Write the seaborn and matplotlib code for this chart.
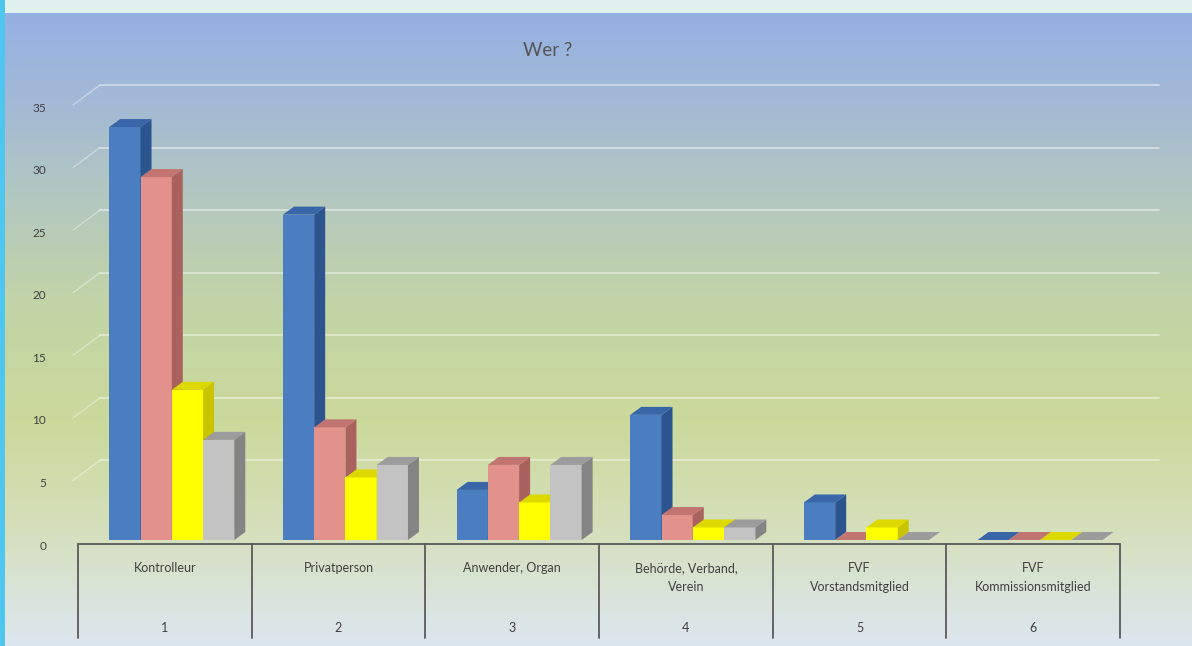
import numpy as np
import pandas as pd
import matplotlib
matplotlib.use("Agg")
import matplotlib.pyplot as plt
import matplotlib.transforms as mtransforms
from matplotlib.patches import Polygon
from matplotlib.colors import to_rgb
import seaborn as sns

# ---------------- data ----------------
categories = ["Kontrolleur", "Privatperson", "Anwender, Organ",
              "Behörde, Verband,\nVerein", "FVF\nVorstandsmitglied", "FVF\nKommissionsmitglied"]
numbers = ["1", "2", "3", "4", "5", "6"]
series = ["Reihe 1", "Reihe 2", "Reihe 3", "Reihe 4"]
s1 = [33, 26, 4, 10, 3, 0]
s2 = [29, 9, 6, 2, 0, 0]
s3 = [12, 5, 3, 1, 1, 0]
s4 = [8, 6, 6, 1, 0, 0]
title = "Wer ?"

front_cols = ["#4a7ec0", "#e3918b", "#ffff00", "#c3c3c3"]
side_cols = ["#2c5590", "#a9625d", "#c8c400", "#848484"]
top_cols = ["#3866a8", "#c27470", "#dcd800", "#9c9c9c"]

df = pd.DataFrame({
    "cat": np.repeat(categories, 4),
    "series": series * 6,
    "value": [v for quad in zip(s1, s2, s3, s4) for v in quad],
})

W, H = 1192, 646
sns.set_theme(style="white")
plt.rcParams["font.family"] = ["Lato", "DejaVu Sans"]
fig = plt.figure(figsize=(W / 100, H / 100), dpi=100)

# ---------------- background ----------------
bg = fig.add_axes([0, 0, 1, 1], zorder=-10)
stops_y = [0, 12, 13, 100, 200, 300, 420, 520, 600, 646]
stops_c = ["#dff0ef", "#dff0ef", "#95b1e3", "#a3b9d6", "#b3c8bf", "#c2d4a7",
           "#cbd99b", "#d4dfb8", "#dae4dc", "#dce6ef"]
ys = np.arange(H)
rgb = np.array([to_rgb(c) for c in stops_c])
col = np.stack([np.interp(ys, stops_y, rgb[:, k]) for k in range(3)], axis=1)
img = np.repeat(col[:, None, :], W, axis=1)
img[:, :5, :] = to_rgb("#4fc6ef")
bg.imshow(img, aspect="auto", extent=[0, W, H, 0])
bg.set_xlim(0, W)
bg.set_ylim(H, 0)
bg.axis("off")
bg.text(548, 50, title, ha="center", va="center", fontsize=13.5, color="#555555")

# ---------------- main axes ----------------
left, right, y0, y35 = 78, 1120, 540, 102
ax = fig.add_axes([left / W, (H - y0) / H, (right - left) / W, (y0 - y35) / H])
ax.set_facecolor("none")
sns.barplot(data=df, x="cat", y="value", hue="series", order=categories,
            hue_order=series, palette=front_cols, width=0.72, legend=False,
            errorbar=None, ax=ax, saturation=1)
ax.set_xlim(-0.5, 5.5)
ax.set_ylim(0, 35)
for s in ax.spines.values():
    s.set_visible(False)
ax.set_xlabel("")
ax.set_ylabel("")
ax.set_xticks([])
ax.set_yticks([0, 5, 10, 15, 20, 25, 30, 35])
ax.tick_params(axis="y", length=0, pad=23, labelsize=8.5, labelcolor="#404040")
off = mtransforms.ScaledTranslation(0, -5 / 100, fig.dpi_scale_trans)
for lab in ax.get_yticklabels():
    lab.set_transform(lab.get_transform() + off)

# back-wall gridlines (3D look)
back = mtransforms.offset_copy(ax.transData, fig=fig, x=22, y=17, units="dots")
front = mtransforms.offset_copy(ax.transData, fig=fig, x=-5, y=-3, units="dots")
for v in [5, 10, 15, 20, 25, 30, 35]:
    ax.plot([-0.5, 5.6], [v, v], transform=back, color="white", alpha=0.5,
            lw=1.2, clip_on=False, zorder=0)
    p1 = front.transform((-0.5, v))
    p2 = back.transform((-0.5, v))
    fig.add_artist(plt.Line2D([p1[0] / W, p2[0] / W], [p1[1] / H, p2[1] / H],
                              transform=fig.transFigure, color="white",
                              alpha=0.4, lw=1.0, zorder=0))

# 3D faces from seaborn's bars
dx = 11 / ((right - left) / 6)
dy = 8 / ((y0 - y35) / 35)
shift = 0.04
patches = sorted(ax.patches, key=lambda p: p.get_x())
for i, p in enumerate(patches):
    p.set_x(p.get_x() + shift)
    x, w, h = p.get_x(), p.get_width(), p.get_height()
    k = front_cols.index([c for c in front_cols
                          if np.allclose(to_rgb(c), p.get_facecolor()[:3], atol=0.01)][0])
    z = 2 + i * 0.01
    p.set_zorder(z)
    p.set_edgecolor("none")
    side = Polygon([(x + w, 0), (x + w + dx, dy), (x + w + dx, h + dy), (x + w, h)],
                   closed=True, facecolor=side_cols[k], edgecolor="none", zorder=z)
    top = Polygon([(x, h), (x + dx, h + dy), (x + w + dx, h + dy), (x + w, h)],
                  closed=True, facecolor=top_cols[k], edgecolor="none", zorder=z)
    ax.add_patch(side)
    ax.add_patch(top)

# category axis (table-like)
xt = ax.get_xaxis_transform()
ax_h = y0 - y35
ybase = -4 / ax_h
ybot = -98 / ax_h
ax.plot([-0.5, 5.5], [ybase, ybase], transform=xt, color="#5a5a5a", lw=1.3,
        clip_on=False, zorder=5)
for b in np.arange(-0.5, 6.0, 1.0):
    ax.plot([b, b], [ybase, ybot], transform=xt, color="#5a5a5a", lw=1.3,
            clip_on=False, zorder=5)
for i, (c, n) in enumerate(zip(categories, numbers)):
    ax.text(i, -22 / ax_h, c, transform=xt, ha="center", va="top", fontsize=9,
            color="#404040", linespacing=1.7)
    ax.text(i, -88 / ax_h, n, transform=xt, ha="center", va="center",
            fontsize=9, color="#404040")

fig.savefig("out.png", dpi=100)
